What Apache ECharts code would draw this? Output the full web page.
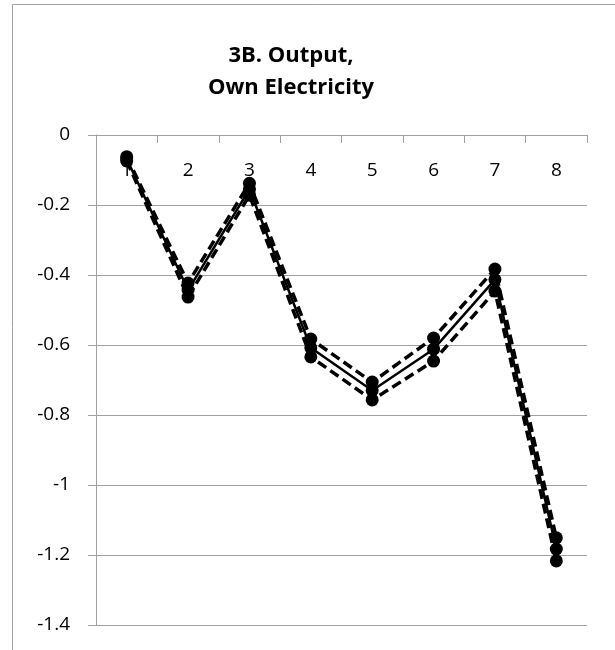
<!DOCTYPE html>
<html>
<head>
<meta charset="utf-8">
<script src="https://cdn.jsdelivr.net/npm/echarts@6/dist/echarts.min.js"></script>
<style>
html,body{margin:0;padding:0;background:#fff;}
#c{width:615px;height:650px;}
</style>
</head>
<body>
<div id="c"></div>
<script>
const categories = ['1','2','3','4','5','6','7','8'];
const upperValues = [-0.062, -0.423, -0.138, -0.583, -0.706, -0.580, -0.383, -1.151];
const centerValues = [-0.068, -0.443, -0.155, -0.608, -0.730, -0.612, -0.413, -1.183];
const lowerValues = [-0.074, -0.463, -0.172, -0.634, -0.757, -0.646, -0.446, -1.217];
const titleLines = ['3B. Output,', 'Own Electricity'];

const chart = echarts.init(document.getElementById('c'), null, {renderer: 'canvas'});
const font = 'Open Sans';
function lineSeries(name, data, type, width) {
  return {
    name: name,
    type: 'line',
    data: data,
    symbol: 'circle',
    symbolSize: 13,
    itemStyle: {color: '#000'},
    lineStyle: {color: '#000', width: width, type: type},
    animation: false
  };
}
chart.setOption({
  backgroundColor: '#fff',
  animation: false,
  title: {
    text: titleLines.join('\n'),
    left: 286,
    top: 35,
    textAlign: 'center',
    textStyle: {fontFamily: font, fontWeight: 'bold', fontSize: 22, color: '#000', lineHeight: 32}
  },
  graphic: [{
    type: 'rect',
    shape: {x: 12.5, y: 4.5, width: 800, height: 800},
    style: {fill: 'none', stroke: '#a0a0a0', lineWidth: 1},
    silent: true
  }],
  grid: {left: 96, top: 135, right: 28, bottom: 25, containLabel: false},
  xAxis: {
    type: 'category',
    position: 'top',
    data: categories,
    boundaryGap: true,
    axisLine: {show: true, onZero: false, lineStyle: {color: '#a0a0a0', width: 1}},
    axisTick: {show: true, inside: true, length: 8, lineStyle: {color: '#a0a0a0'}},
    axisLabel: {inside: true, color: '#000', fontFamily: font, fontSize: 19, margin: 26},
    splitLine: {show: false}
  },
  yAxis: {
    type: 'value',
    min: -1.4,
    max: 0,
    interval: 0.2,
    axisLine: {show: true, lineStyle: {color: '#a0a0a0', width: 1}},
    axisTick: {show: true, length: 8, lineStyle: {color: '#a0a0a0'}},
    axisLabel: {color: '#000', fontFamily: font, fontSize: 19, margin: 26,
      formatter: function (v) { return String(Math.round(v * 10) / 10); }},
    splitLine: {show: true, lineStyle: {color: '#a0a0a0', width: 1}}
  },
  series: [
    lineSeries('upper', upperValues, [10, 5], 3.5),
    lineSeries('lower', lowerValues, [10, 5], 3.5),
    lineSeries('center', centerValues, 'solid', 2.5)
  ]
});
</script>
</body>
</html>
